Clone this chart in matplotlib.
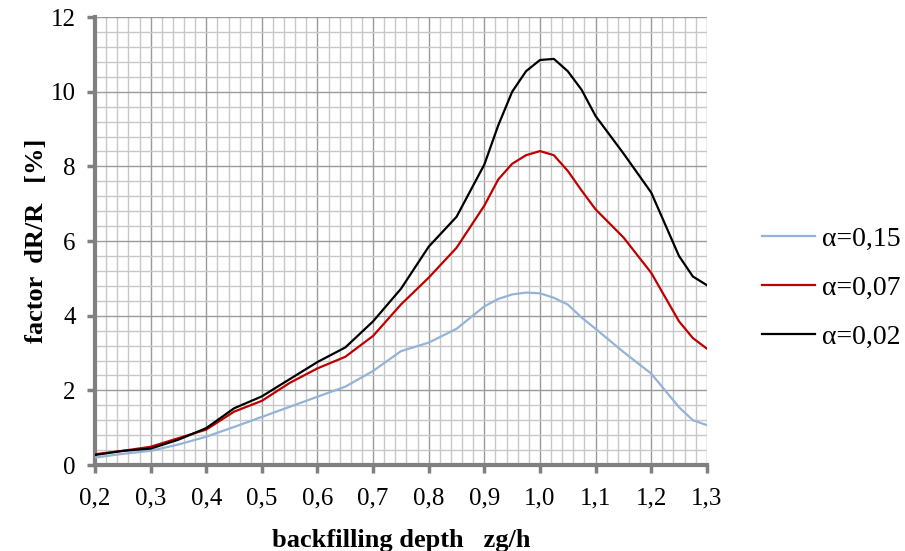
import matplotlib
matplotlib.use("Agg")
import matplotlib.pyplot as plt
from matplotlib.ticker import MultipleLocator, FuncFormatter

# data
depth = [0.2, 0.25, 0.3, 0.35, 0.4, 0.45, 0.5, 0.55, 0.6, 0.65, 0.7, 0.75, 0.8, 0.85,
         0.9, 0.925, 0.95, 0.975, 1.0, 1.025, 1.05, 1.075, 1.1, 1.15, 1.2, 1.25, 1.275, 1.3]
a015 = [0.2, 0.3, 0.38, 0.55, 0.76, 1.02, 1.29, 1.56, 1.83, 2.1, 2.52, 3.05, 3.28, 3.65,
        4.25, 4.45, 4.57, 4.62, 4.6, 4.48, 4.3, 3.95, 3.65, 3.03, 2.45, 1.55, 1.2, 1.07]
a007 = [0.29, 0.38, 0.49, 0.72, 0.95, 1.43, 1.72, 2.2, 2.59, 2.9, 3.46, 4.3, 5.02, 5.82,
        6.95, 7.65, 8.07, 8.3, 8.41, 8.3, 7.88, 7.35, 6.85, 6.1, 5.15, 3.85, 3.4, 3.12]
a002 = [0.27, 0.38, 0.44, 0.68, 0.99, 1.52, 1.84, 2.3, 2.76, 3.15, 3.85, 4.72, 5.85, 6.65,
        8.05, 9.1, 10.0, 10.55, 10.85, 10.88, 10.55, 10.05, 9.35, 8.35, 7.3, 5.6, 5.05, 4.82]
labels = ["\u03b1=0,15", "\u03b1=0,07", "\u03b1=0,02"]
colors = ["#95B3D7", "#C00000", "#000000"]

plt.rcParams['font.family'] = ['Liberation Serif', 'DejaVu Serif']

fig = plt.figure(figsize=(9.05, 5.51), dpi=100)
ax = fig.add_axes([0.105, 0.156, 0.676, 0.813])

for ys, lab, c in zip([a015, a007, a002], labels, colors):
    ax.plot(depth, ys, color=c, lw=1.6, label=lab, zorder=3)

ax.set_xlim(0.2, 1.3)
ax.set_ylim(0, 12)
ax.xaxis.set_major_locator(MultipleLocator(0.1))
ax.xaxis.set_minor_locator(MultipleLocator(0.02))
ax.yaxis.set_major_locator(MultipleLocator(2))
ax.yaxis.set_minor_locator(MultipleLocator(0.4))
ax.xaxis.set_major_formatter(FuncFormatter(lambda v, p: f"{v:.1f}".replace(".", ",")))
ax.yaxis.set_major_formatter(FuncFormatter(lambda v, p: f"{v:.0f}"))

ax.grid(which='major', color='#9a9a9a', lw=1.0, zorder=1)
ax.grid(which='minor', color='#c8c8c8', lw=1.0, zorder=0)

for s in ['top', 'right']:
    ax.spines[s].set_visible(False)
for s in ['left', 'bottom']:
    ax.spines[s].set_color('#808080')
    ax.spines[s].set_linewidth(3)
ax.tick_params(which='major', direction='out', length=6, width=2.5, color='#808080',
               labelsize=18)
ax.tick_params(axis='x', pad=10)
ax.tick_params(axis='y', pad=8)
ax.tick_params(which='minor', length=0)

ax.set_xlabel("backfilling depth   zg/h", fontsize=19, fontweight='bold', labelpad=14)
ax.set_ylabel("factor  dR/R   [%]", fontsize=19, fontweight='bold', labelpad=2)

ax.legend(loc='center left', bbox_to_anchor=(1.05, 0.395), frameon=False, fontsize=20,
          handlelength=1.9, handletextpad=0.25, labelspacing=0.85)

fig.savefig("out.png", dpi=100)
